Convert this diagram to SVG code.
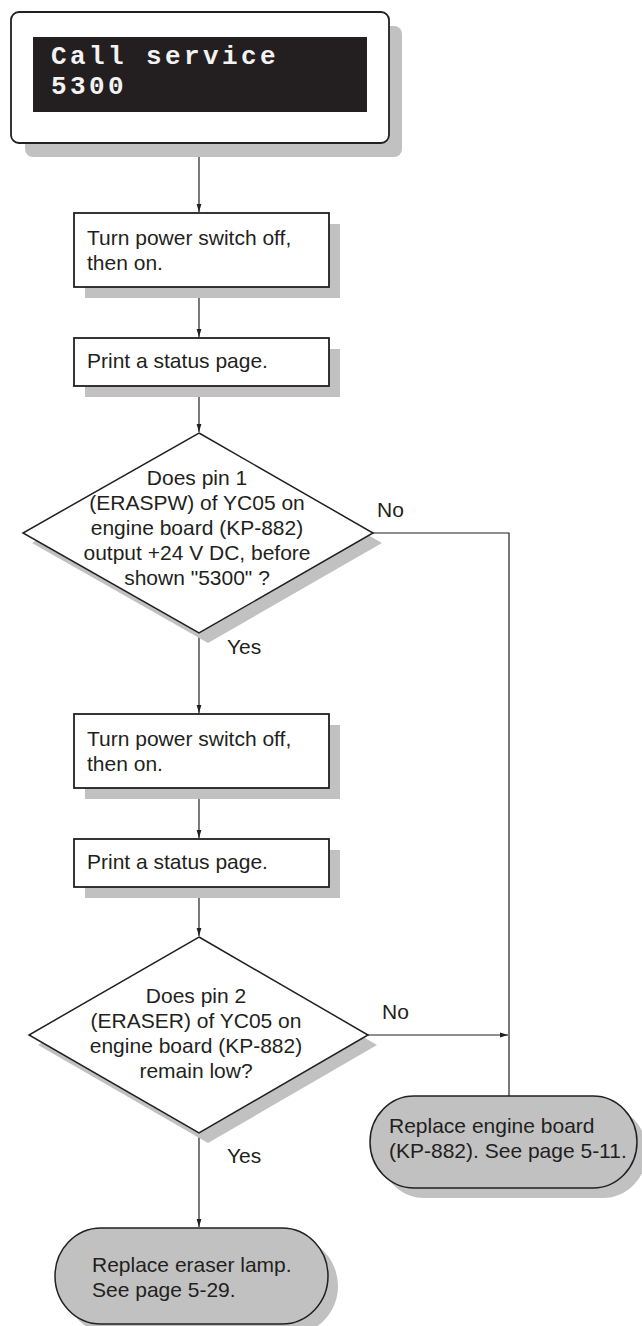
<svg xmlns="http://www.w3.org/2000/svg" width="642" height="1326" viewBox="0 0 642 1326">
<style>
.bg{fill:#ffffff}
.shadow{fill:#c1c1c1;stroke:none}
.box{fill:#ffffff;stroke:#231f20;stroke-width:1.8}
.dia{fill:#ffffff;stroke:#231f20;stroke-width:1.5}
.term{fill:#c1c1c1;stroke:#231f20;stroke-width:1.5}
.t{font-family:"Liberation Sans",Arial,Helvetica,sans-serif;font-size:21px;fill:#231f20}
.c{text-anchor:middle}
.lcd{font-family:"Liberation Mono","Courier New",monospace;font-weight:bold;font-size:26px;fill:#f2f2f2;letter-spacing:3.4px}
.line{fill:none;stroke:#231f20;stroke-width:1.2}
</style>
<defs>
<marker id="arr" markerWidth="8" markerHeight="8" refX="8" refY="4" orient="auto" markerUnits="userSpaceOnUse">
<path d="M0,1.6 L8,4 L0,6.4 Z" fill="#231f20"/>
</marker>
</defs>
<rect class="bg" x="0" y="0" width="642" height="1326"/>

<g id="connectors">
<line class="line" x1="199" y1="143" x2="199" y2="212" marker-end="url(#arr)"/>
<line class="line" x1="199" y1="287" x2="199" y2="337" marker-end="url(#arr)"/>
<line class="line" x1="199" y1="386" x2="199" y2="432" marker-end="url(#arr)"/>
<line class="line" x1="199" y1="633" x2="199" y2="713" marker-end="url(#arr)"/>
<line class="line" x1="199" y1="788" x2="199" y2="838" marker-end="url(#arr)"/>
<line class="line" x1="199" y1="887" x2="199" y2="936" marker-end="url(#arr)"/>
<line class="line" x1="199" y1="1133" x2="199" y2="1227" marker-end="url(#arr)"/>
<polyline class="line" points="373,533 509,533 509,1096"/>
<line class="line" x1="368" y1="1035" x2="508" y2="1035" marker-end="url(#arr)"/>
<text class="t" x="377" y="517">No</text>
<text class="t" x="227" y="654">Yes</text>
<text class="t" x="382" y="1019">No</text>
<text class="t" x="227" y="1163">Yes</text>
</g>

<g id="start">
<rect class="shadow" x="25" y="26" width="377" height="131" rx="8"/>
<rect class="box" x="11" y="12" width="378" height="131" rx="8"/>
<rect x="33" y="37" width="334" height="75" fill="#231f20"/>
<text class="lcd" x="51" y="64">Call service</text>
<text class="lcd" x="51" y="94">5300</text>
</g>

<g id="step1">
<rect class="shadow" x="85" y="224" width="255" height="74"/>
<rect class="box" x="74" y="213" width="255" height="74"/>
<text class="t" x="87" y="245">Turn power switch off,</text>
<text class="t" x="87" y="270">then on.</text>
</g>

<g id="step2">
<rect class="shadow" x="85" y="349" width="255" height="48"/>
<rect class="box" x="74" y="338" width="255" height="48"/>
<text class="t" x="87" y="368">Print a status page.</text>
</g>

<g id="decision1">
<polygon class="shadow" points="208,443 382,543 208,643 32,543"/>
<polygon class="dia" points="199,433 373,533 199,633 23,533"/>
<text class="t c" x="197" y="485">Does pin 1</text>
<text class="t c" x="197" y="510">(ERASPW) of YC05 on</text>
<text class="t c" x="197" y="535">engine board (KP-882)</text>
<text class="t c" x="197" y="560">output +24 V DC, before</text>
<text class="t c" x="197" y="585">shown "5300" ?</text>
</g>

<g id="step3">
<rect class="shadow" x="85" y="725" width="255" height="74"/>
<rect class="box" x="74" y="714" width="255" height="74"/>
<text class="t" x="87" y="746">Turn power switch off,</text>
<text class="t" x="87" y="771">then on.</text>
</g>

<g id="step4">
<rect class="shadow" x="85" y="850" width="255" height="48"/>
<rect class="box" x="74" y="839" width="255" height="48"/>
<text class="t" x="87" y="869">Print a status page.</text>
</g>

<g id="decision2">
<polygon class="shadow" points="208,947 377,1045 208,1143 38,1045"/>
<polygon class="dia" points="199,937 368,1035 199,1133 29,1035"/>
<text class="t c" x="196" y="1003">Does pin 2</text>
<text class="t c" x="196" y="1028">(ERASER) of YC05 on</text>
<text class="t c" x="196" y="1053">engine board (KP-882)</text>
<text class="t c" x="196" y="1078">remain low?</text>
</g>

<g id="end-engine-board">
<rect class="shadow" x="380" y="1106" width="267" height="92" rx="44" ry="46"/>
<rect class="term" x="370" y="1096" width="267" height="92" rx="44" ry="46"/>
<text class="t" x="389" y="1133">Replace engine board</text>
<text class="t" x="389" y="1158">(KP-882). See page 5-11.</text>
</g>

<g id="end-eraser-lamp">
<rect class="shadow" x="65" y="1238" width="273" height="96" rx="46" ry="48"/>
<rect class="term" x="55" y="1228" width="273" height="96" rx="46" ry="48"/>
<text class="t" x="92" y="1272">Replace eraser lamp.</text>
<text class="t" x="92" y="1297">See page 5-29.</text>
</g>
</svg>
